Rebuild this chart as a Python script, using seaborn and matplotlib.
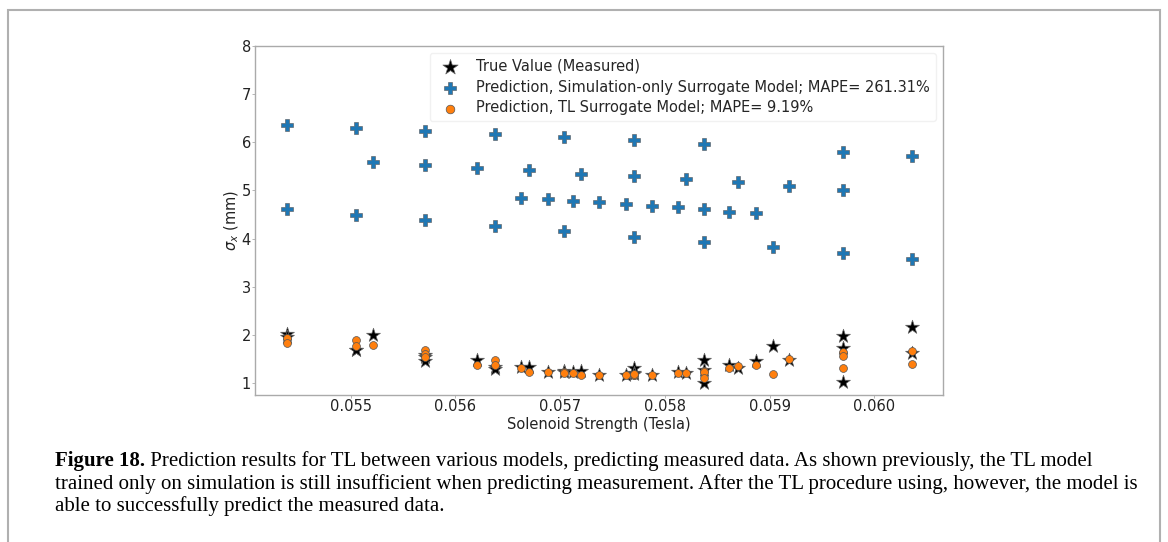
import numpy as np
import pandas as pd
import matplotlib
matplotlib.use("Agg")
import matplotlib.pyplot as plt
import matplotlib.patches as mpatches
import seaborn as sns

# ---------------------------------------------------------
# data read off the figure (one row per measurement)
# ---------------------------------------------------------
solenoid = [0.054389, 0.054389, 0.055051, 0.055051, 0.055210,
            0.055714, 0.055714, 0.055714, 0.056203, 0.056378, 0.056378,
            0.056627, 0.056706, 0.056882, 0.057039, 0.057039, 0.057126,
            0.057200, 0.057372, 0.057625, 0.057706, 0.057706, 0.057706,
            0.057875, 0.058121, 0.058200, 0.058370, 0.058370, 0.058370,
            0.058616, 0.058694, 0.058871, 0.059036, 0.059189,
            0.059699, 0.059699, 0.059699, 0.060361, 0.060361]
true_vals = [2.02, 1.96, 1.70, 1.69, 2.00,
             1.58, 1.54, 1.46, 1.49, 1.34, 1.29,
             1.34, 1.35, 1.24, 1.25, 1.23, 1.24,
             1.25, 1.18, 1.18, 1.31, 1.22, 1.20,
             1.18, 1.24, 1.22, 1.49, 1.27, 1.00,
             1.38, 1.32, 1.46, 1.78, 1.49,
             1.98, 1.74, 1.02, 2.16, 1.64]
sim_pred = [6.35, 4.61, 6.30, 4.49, 5.59,
            6.24, 5.52, 4.38, 5.47, 6.18, 4.27,
            4.85, 5.42, 4.82, 6.11, 4.16, 4.78,
            5.35, 4.75, 4.72, 6.04, 5.30, 4.04,
            4.68, 4.65, 5.23, 5.96, 4.61, 3.93,
            4.56, 5.17, 4.53, 3.82, 5.09,
            5.80, 5.01, 3.70, 5.71, 3.58]
tl_pred = [1.95, 1.84, 1.89, 1.77, 1.79,
           1.70, 1.62, 1.55, 1.38, 1.48, 1.38,
           1.31, 1.24, 1.24, 1.24, 1.22, 1.22,
           1.17, 1.18, 1.18, 1.18, 1.17, 1.20,
           1.18, 1.21, 1.22, 1.26, 1.24, 1.11,
           1.31, 1.36, 1.38, 1.19, 1.50,
           1.65, 1.56, 1.32, 1.67, 1.41]

label_true = "True Value (Measured)"
label_sim = "Prediction, Simulation-only Surrogate Model; MAPE= 261.31%"
label_tl = "Prediction, TL Surrogate Model; MAPE= 9.19%"

caption_bold = "Figure 18."
caption_lines = [
    " Prediction results for TL between various models, predicting measured data. As shown previously, the TL model",
    "trained only on simulation is still insufficient when predicting measurement. After the TL procedure using, however, the model is",
    "able to successfully predict the measured data.",
]

df = pd.DataFrame({"solenoid": solenoid, "true": true_vals,
                   "sim": sim_pred, "tl": tl_pred})

# ---------------------------------------------------------
# figure
# ---------------------------------------------------------
sns.set_style("white")
plt.rcParams["font.family"] = ["DejaVu Sans"]

fig = plt.figure(figsize=(11.68, 5.42), dpi=100)
ax = fig.add_axes([0.2183, 0.2712, 0.5891, 0.6445])

sns.scatterplot(data=df, x="solenoid", y="true", ax=ax, marker="*", s=110,
                color="black", edgecolor="#666666", linewidth=0.5,
                label=label_true, zorder=2)
sns.scatterplot(data=df, x="solenoid", y="sim", ax=ax, marker="P", s=66,
                color="#1f77b4", edgecolor="#555555", linewidth=0.4,
                label=label_sim, zorder=3)
sns.scatterplot(data=df, x="solenoid", y="tl", ax=ax, marker="o", s=32,
                color="#ff7f0e", edgecolor="#555555", linewidth=0.5,
                label=label_tl, zorder=4)

ax.set_xlim(0.054086, 0.060656)
ax.set_ylim(0.76, 8.0)
ax.set_xticks([0.055, 0.056, 0.057, 0.058, 0.059, 0.060])
ax.set_xticklabels(["0.055", "0.056", "0.057", "0.058", "0.059", "0.060"])
ax.set_yticks([1, 2, 3, 4, 5, 6, 7, 8])
ax.tick_params(axis="both", labelsize=10.5, length=2, width=0.6,
               color="#aaaaaa", labelcolor="#222222", bottom=True, left=True,
               pad=1)
for sp in ax.spines.values():
    sp.set_color("#aaaaaa")
    sp.set_linewidth(1.0)

ax.set_xlabel("Solenoid Strength (Tesla)", fontsize=10.5, color="#222222",
              labelpad=2)
ax.set_ylabel(r"$\sigma_x$ (mm)", fontsize=10.5, color="#222222")
ax.yaxis.set_label_coords(-0.021, 0.5)

leg = ax.legend(loc="upper right", fontsize=10.5, frameon=True,
                markerscale=1.1, handletextpad=0.8, borderpad=0.4,
                labelspacing=0.4, bbox_to_anchor=(1.0, 1.0))
leg.get_frame().set_edgecolor("#eeeeee")
leg.get_frame().set_linewidth(1.0)

# caption below the plot
renderer = fig.canvas.get_renderer()
cap_x = 55 / 1168
ys = [1 - 461 / 542, 1 - 484 / 542, 1 - 506 / 542]
cap_kw = dict(family=["Liberation Serif", "DejaVu Serif"], fontsize=15,
              va="center", ha="left", color="black")
t_bold = fig.text(cap_x, ys[0], caption_bold, fontweight="bold", **cap_kw)
bb = t_bold.get_window_extent(renderer=renderer)
fig.text(bb.x1 / fig.bbox.width, ys[0], caption_lines[0], **cap_kw)
fig.text(cap_x, ys[1], caption_lines[1], **cap_kw)
fig.text(cap_x, ys[2], caption_lines[2], **cap_kw)

# page frame
frame = mpatches.Rectangle((8 / 1168, -0.05), (1160 - 8) / 1168, 1.05 - 10 / 542,
                           transform=fig.transFigure, fill=False,
                           edgecolor="#b0b0b0", linewidth=1.5, clip_on=False)
fig.patches.append(frame)

fig.savefig("out.png", dpi=100)
plt.close()
